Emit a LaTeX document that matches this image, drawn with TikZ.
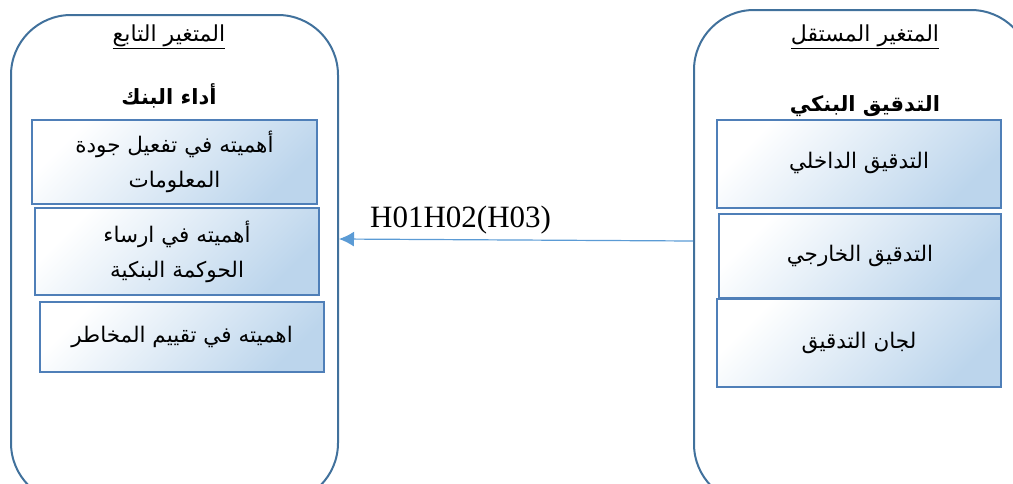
\documentclass[tikz,border=0pt]{standalone}
\usepackage{fontspec}
\setmainfont{Liberation Serif}
\newfontfamily\arabicfont[Script=Arabic]{DejaVu Sans}
\TeXXeTstate=1
\definecolor{outerc}{HTML}{41719C}
\definecolor{innerc}{HTML}{4F7FB8}
\definecolor{fillb}{HTML}{BCD5EC}
\definecolor{arrc}{HTML}{5B9BD5}
\usetikzlibrary{arrows.meta}
\tikzset{
  outerbox/.style={draw=outerc, line width=2pt, rounded corners=60pt, inner sep=0pt},
  itembox/.style={draw=innerc, line width=2.2pt, inner sep=0pt, top color=white, bottom color=fillb, shading angle=45, align=center, font=\arabicfont\fontsize{21.5}{36}\selectfont},
  titletext/.style={inner sep=0pt, font=\arabicfont\fontsize{22}{24}\selectfont},
  headtext/.style={inner sep=0pt, font=\arabicfont\bfseries\fontsize{21}{24}\selectfont},
  arr/.style={draw=arrc, line width=1.2pt, -{Latex[length=15pt,width=15pt]}},
}
\begin{document}
\begin{tikzpicture}[x=1pt,y=-1pt]
\useasboundingbox (0,0) rectangle (1013,483);
\begin{scope}
\clip (0,0) rectangle (1013,483);
% outer boxes
\node[outerbox, minimum width=327pt, minimum height=488pt] (L) at (174.5,259) {};
\node[outerbox, minimum width=337pt, minimum height=494pt] (R) at (862.5,257) {};
\end{scope}
% titles
\node[titletext] (Lt) at (169,37) {\underline{\beginR المتغير التابع\endR}};
\node[headtext] (Lh) at (169,96) {\beginR أداء البنك\endR};
\node[titletext] (Rt) at (865,37) {\underline{\beginR المتغير المستقل\endR}};
\node[headtext] (Rh) at (865,106) {\beginR التدقيق البنكي\endR};
% left items
\node[itembox, minimum width=285pt, minimum height=84pt] (L1) at (174.5,162) {\beginR أهميته في تفعيل جودة\endR\\[-1pt]\beginR المعلومات\endR};
\node[itembox, minimum width=284pt, minimum height=87pt] (L2) at (177,251.5) {\beginR أهميته في ارساء\endR\\[-1pt]\beginR الحوكمة البنكية\endR};
\node[itembox, minimum width=284pt, minimum height=70pt] (L3) at (182,337) {\beginR اهميته في تقييم المخاطر\endR};
% right items
\node[itembox, minimum width=284pt, minimum height=88pt] (R1) at (859,164) {\raisebox{7pt}{\beginR التدقيق الداخلي\endR}};
\node[itembox, minimum width=282pt, minimum height=84pt] (R2) at (860,256) {\beginR التدقيق الخارجي\endR};
\node[itembox, minimum width=284pt, minimum height=88pt] (R3) at (859,343) {\raisebox{4pt}{\beginR لجان التدقيق\endR}};
% arrow
\coordinate (ya) at (0,241);
\coordinate (yb) at (0,239);
\draw[arr] (R.west |- ya) -- (L.east |- yb);
\node[font=\fontsize{31}{34}\selectfont, inner sep=0pt, anchor=base west] (H) at (370,227) {H01H02(H03)};
\end{tikzpicture}
\end{document}
